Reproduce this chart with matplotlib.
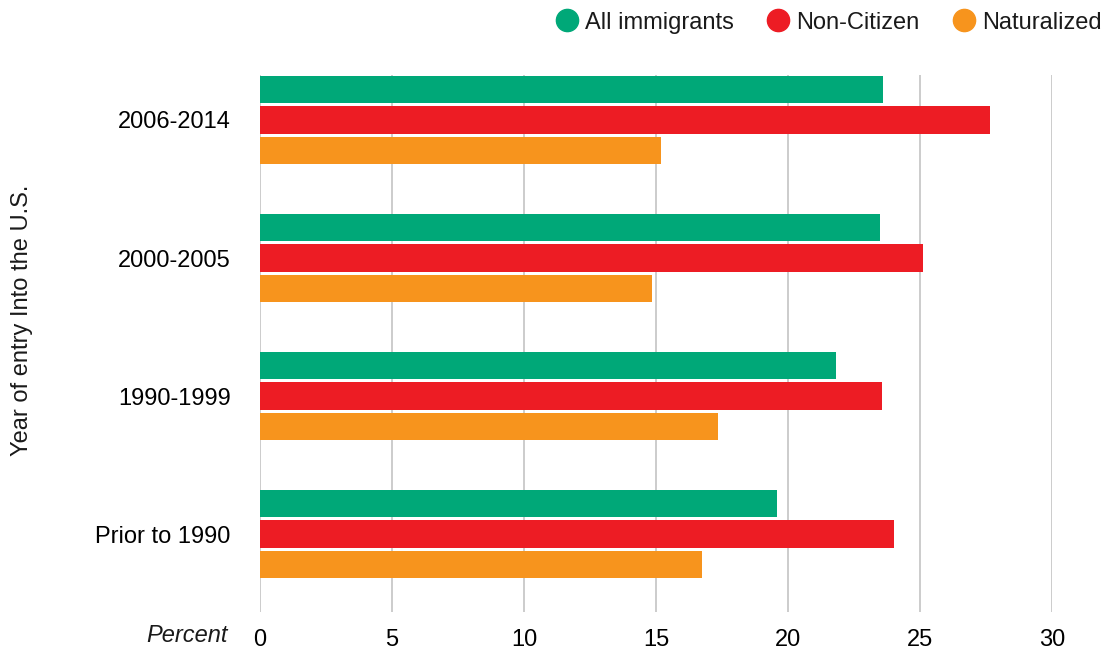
import numpy as np
import matplotlib.pyplot as plt
from matplotlib.lines import Line2D

plt.rcParams.update({'font.family': ['Liberation Sans', 'DejaVu Sans'],
                     'font.size': 17, 'text.color': '#1a1a1a'})

# Share of immigrants in each group, by year of entry
periods = ['Prior to 1990', '1990-1999', '2000-2005', '2006-2014']
all_immigrants = [19.6, 21.8, 23.5, 23.6]
non_citizen = [24.0, 23.55, 25.1, 27.65]
naturalized = [16.75, 17.35, 14.85, 15.2]

series = [('All immigrants', all_immigrants, '#00a878'),
          ('Non-Citizen', non_citizen, '#ed1c24'),
          ('Naturalized', naturalized, '#f7941d')]

fig = plt.figure(figsize=(11.05, 6.5), dpi=100)
ax = fig.add_axes([260/1105, 1 - 612/650, (1052 - 260)/1105, (612 - 75)/650])

ypos = np.arange(len(periods))
step = 0.221
for i, (name, vals, col) in enumerate(series):
    ax.barh(ypos + (1 - i)*step, vals, height=0.2, color=col, zorder=2)

ax.set_xlim(0, 30)
ax.set_ylim(-0.565, 3.326)
ax.set_xticks(np.arange(0, 31, 5))
ax.set_yticks(ypos)
ax.set_yticklabels(periods)
ax.tick_params(length=0)
ax.tick_params(axis='x', pad=12)
ax.tick_params(axis='y', pad=21)
for s in ax.spines.values():
    s.set_visible(False)
ax.grid(axis='x', color='#c8c8c8', lw=1.3, zorder=0)
ax.set_axisbelow(True)

ax.annotate('Percent', xy=(0, 0), xycoords='axes fraction', xytext=(-32, -24),
            textcoords='offset pixels', ha='right', va='center', style='italic')
fig.text(22/1105, 1 - 320/650, 'Year of entry Into the U.S.', rotation=90,
         ha='center', va='center')

handles = [Line2D([], [], ls='none', marker='o', ms=16, color=c, label=n)
           for n, v, c in series]
fig.legend(handles=handles, loc='upper right', bbox_to_anchor=(1.016, 1.015),
           ncol=3, frameon=False, handlelength=0.8, handletextpad=0.35,
           columnspacing=1.5)

fig.savefig('out.png')
